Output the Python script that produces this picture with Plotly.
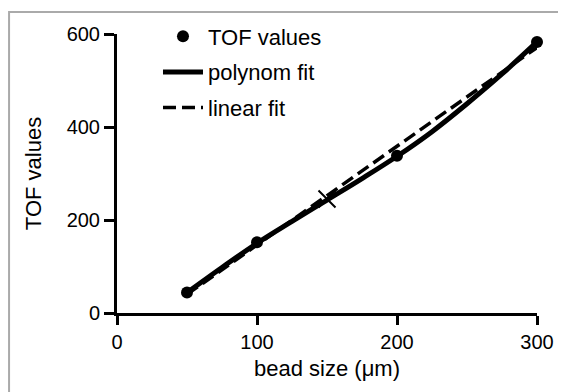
import plotly.graph_objects as go

# Measured data
bead_size = [50, 100, 200, 300]
tof_values = [44, 152, 338, 583]

# Polynomial fit curve
poly_x = [50, 75, 100, 125, 150, 175, 200, 225, 250, 275, 300]
poly_y = [44, 98, 150, 197, 243, 289, 337, 390, 450, 514, 583]

# Linear fit
lin_x = [50, 300]
lin_y = [40, 571]

# Cross marker
cross_x = [150]
cross_y = [245]

x_ticks = [0, 100, 200, 300]
y_ticks = [0, 200, 400, 600]

FONT = "Arial, Liberation Sans, sans-serif"

fig = go.Figure()
fig.add_trace(go.Scatter(x=bead_size, y=tof_values, mode="markers", name="TOF values",
                         legendgroup="a",
                         marker=dict(color="black", size=12), cliponaxis=False))
fig.add_trace(go.Scatter(x=poly_x, y=poly_y, mode="lines", name="polynom fit",
                         legendgroup="b",
                         line=dict(color="black", width=5, shape="spline"), cliponaxis=False))
fig.add_trace(go.Scatter(x=lin_x, y=lin_y, mode="lines", name="linear fit",
                         legendgroup="c",
                         line=dict(color="black", width=3.5, dash="13px,6px"), cliponaxis=False))
fig.add_trace(go.Scatter(x=cross_x, y=cross_y, mode="markers", showlegend=False,
                         marker=dict(symbol="x-thin", size=17, line=dict(color="black", width=2)),
                         cliponaxis=False))

# The page body adds an 8px offset; margins compensate for it.
fig.update_layout(
    width=558, height=384,
    margin=dict(l=109, r=29, t=26, b=79, autoexpand=False),
    paper_bgcolor="white", plot_bgcolor="white",
    font=dict(family=FONT, size=20, color="black"),
    showlegend=True,
    legend=dict(x=0.0976, y=0.9805, xanchor="left", yanchor="top", yref="container",
                bgcolor="rgba(0,0,0,0)",
                font=dict(size=22), traceorder="grouped", tracegroupgap=4, itemwidth=40),
    xaxis=dict(range=[0, 300], tickvals=x_ticks, showgrid=False, zeroline=False,
               showline=True, linecolor="black", linewidth=3,
               ticks="outside", ticklen=9, tickwidth=3, tickcolor="black",
               tickfont=dict(size=20),
               title=dict(text="bead size (μm)", font=dict(size=22), standoff=9)),
    yaxis=dict(range=[0, 600], tickvals=y_ticks, showgrid=False, zeroline=False,
               showline=True, linecolor="black", linewidth=3,
               ticks="outside", ticklen=10, tickwidth=3, tickcolor="black",
               tickfont=dict(size=20),
               title=dict(text="TOF values", font=dict(size=22), standoff=19)),
    shapes=[dict(type="rect", xref="paper", yref="paper",
                 x0=-0.257, x1=1.3, y0=-0.6, y1=1.0789,
                 line=dict(color="#aaaaaa", width=2), fillcolor="rgba(0,0,0,0)", layer="below")],
)

fig.write_html("out.html")
